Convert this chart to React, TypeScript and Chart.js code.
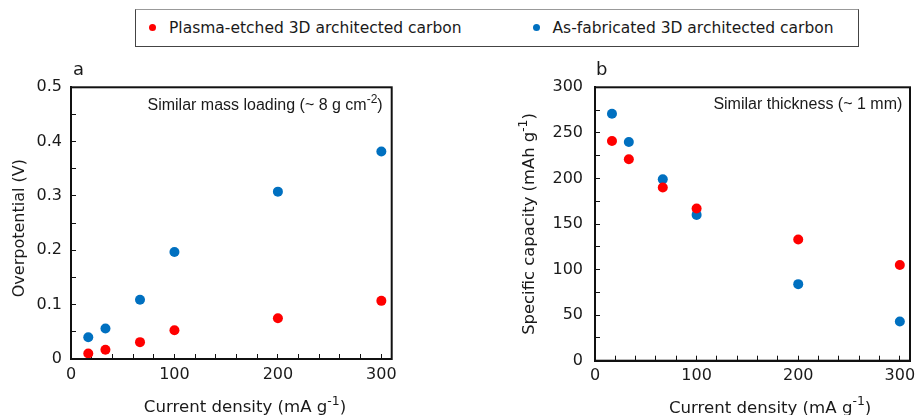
import React, { useEffect, useRef } from 'react';
import { Chart, registerables } from 'chart.js';

Chart.register(...registerables);

// ---------- data ----------
const currentDensity = [16.7, 33.3, 66.7, 100, 200, 300];
const overpotentialEtched = [0.01, 0.017, 0.031, 0.053, 0.075, 0.107];
const overpotentialFabricated = [0.04, 0.056, 0.109, 0.197, 0.308, 0.382];
const capacityEtched = [241, 221, 190, 167, 133, 105];
const capacityFabricated = [271, 240, 199, 160, 84, 43];

const seriesNames = ['Plasma-etched 3D architected carbon', 'As-fabricated 3D architected carbon'];
const seriesColors = ['#ff0000', '#0070c0'];

const xTickValues = [0, 100, 200, 300];
const xTickLabels = ['0', '100', '200', '300'];
const overpotentialTickValues = [0, 0.1, 0.2, 0.3, 0.4, 0.5];
const overpotentialTickLabels = ['0', '0.1', '0.2', '0.3', '0.4', '0.5'];
const capacityTickValues = [0, 50, 100, 150, 200, 250, 300];
const capacityTickLabels = ['0', '50', '100', '150', '200', '250', '300'];

const TEXT = '#1a1a1a';
const SANS = '"DejaVu Sans", Verdana, sans-serif';
const ARIAL = '"Liberation Sans", Arial, sans-serif';

type Seg = { t: string; sup?: boolean };

function drawRich(ctx: CanvasRenderingContext2D, segs: Seg[], x: number, y: number, size: number, family: string, align: string) {
  const supSize = size * 0.75;
  const widths = segs.map((s) => {
    ctx.font = `${s.sup ? supSize : size}px ${family}`;
    return ctx.measureText(s.t).width;
  });
  const total = widths.reduce((a, b) => a + b, 0);
  let cx = align === 'center' ? x - total / 2 : align === 'right' ? x - total : x;
  ctx.textAlign = 'left';
  ctx.textBaseline = 'alphabetic';
  segs.forEach((s, i) => {
    ctx.font = `${s.sup ? supSize : size}px ${family}`;
    ctx.fillText(s.t, cx, s.sup ? y - size * 0.45 : y);
    cx += widths[i];
  });
}

const panelPlugin = {
  id: 'panelText',
  afterDraw(chart: any, _args: any, o: any) {
    const { ctx, chartArea: ca } = chart;
    ctx.save();
    ctx.strokeStyle = '#111';
    ctx.lineWidth = 2;
    ctx.strokeRect(ca.left, ca.top, ca.right - ca.left, ca.bottom - ca.top);
    ctx.fillStyle = TEXT;
    // panel letter
    drawRich(ctx, [{ t: o.letter }], ca.left + o.letterDx, ca.top + o.letterDy, 18, SANS, 'left');
    // note
    drawRich(ctx, o.note, ca.right + o.noteDx, ca.top + o.noteDy, 16, ARIAL, 'right');
    // x title
    drawRich(ctx, o.xTitle, (ca.left + ca.right) / 2 + o.xTitleDx, ca.bottom + o.xTitleDy, 16.6, SANS, 'center');
    // y title
    ctx.translate(ca.left + o.yTitleDx, (ca.top + ca.bottom) / 2 + o.yTitleDy);
    ctx.rotate(-Math.PI / 2);
    drawRich(ctx, o.yTitle, 0, 0, o.yTitleSize, SANS, 'center');
    ctx.restore();
  },
};

function labelFor(values: number[], labels: string[]) {
  return (v: any) => {
    const idx = values.findIndex((m) => Math.abs(m - Number(v)) < 1e-9);
    return idx >= 0 ? labels[idx] : '';
  };
}

function makeConfig(p: any): any {
  const tickFont = { family: SANS, size: 16 };
  return {
    type: 'scatter',
    data: {
      datasets: [
        {
          label: seriesNames[0],
          data: currentDensity.map((x, i) => ({ x, y: p.etched[i] })),
          backgroundColor: seriesColors[0],
          borderColor: seriesColors[0],
          pointRadius: 5,
          pointHoverRadius: 5,
          pointBorderWidth: 0,
        },
        {
          label: seriesNames[1],
          data: currentDensity.map((x, i) => ({ x, y: p.fabricated[i] })),
          backgroundColor: seriesColors[1],
          borderColor: seriesColors[1],
          pointRadius: 5,
          pointHoverRadius: 5,
          pointBorderWidth: 0,
        },
      ],
    },
    options: {
      responsive: false,
      animation: false,
      events: [],
      layout: { padding: p.padding },
      scales: {
        x: {
          type: 'linear',
          min: 0,
          max: 310,
          afterFit(s: any) {
            s.height = p.xHeight;
            s.paddingLeft = 0;
            s.paddingRight = 0;
          },
          ticks: {
            stepSize: 20,
            autoSkip: false,
            maxRotation: 0,
            includeBounds: false,
            padding: 11,
            color: TEXT,
            font: tickFont,
            callback: labelFor(xTickValues, xTickLabels),
          },
          grid: { drawOnChartArea: false, tickLength: -5, color: '#111', lineWidth: 1 },
          border: { color: '#111', width: 2 },
        },
        y: {
          type: 'linear',
          min: p.yMin,
          max: p.yMax,
          afterFit(s: any) {
            s.width = p.yWidth;
            s.paddingTop = 0;
            s.paddingBottom = 0;
          },
          ticks: {
            stepSize: p.yStep,
            autoSkip: false,
            includeBounds: false,
            padding: p.yPad,
            color: TEXT,
            font: tickFont,
            callback: labelFor(p.yTickValues, p.yTickLabels),
          },
          grid: { drawOnChartArea: false, tickLength: -5, color: '#111', lineWidth: 1 },
          border: { color: '#111', width: 2 },
        },
      },
      plugins: {
        legend: { display: false },
        tooltip: { enabled: false },
        panelText: p.text,
      },
    },
    plugins: [panelPlugin],
  };
}

const xTitle: Seg[] = [{ t: 'Current density (mA g' }, { t: '-1', sup: true }, { t: ')' }];

export default function App() {
  const refA = useRef<HTMLCanvasElement>(null);
  const refB = useRef<HTMLCanvasElement>(null);

  useEffect(() => {
    const a = new Chart(
      refA.current as HTMLCanvasElement,
      makeConfig({
        etched: overpotentialEtched,
        fabricated: overpotentialFabricated,
        yMin: 0,
        yMax: 0.5,
        yStep: 0.05,
        yTickValues: overpotentialTickValues,
        yTickLabels: overpotentialTickLabels,
        yWidth: 71,
        yPad: 14,
        xHeight: 56,
        padding: { left: 0, top: 27.3, right: 48.3, bottom: 0 },
        text: {
          letter: 'a',
          letterDx: 2,
          letterDy: -12.3,
          note: [{ t: 'Similar mass loading (~ 8 g cm' }, { t: '-2', sup: true }, { t: ')' }],
          noteDx: -9,
          noteDy: 22.7,
          xTitle,
          xTitleDx: 13.7,
          xTitleDy: 53.4,
          yTitle: [{ t: 'Overpotential (V)' }],
          yTitleSize: 16,
          yTitleDx: -47,
          yTitleDy: 5,
        },
      })
    );
    const b = new Chart(
      refB.current as HTMLCanvasElement,
      makeConfig({
        etched: capacityEtched,
        fabricated: capacityFabricated,
        yMin: 0,
        yMax: 300,
        yStep: 25,
        yTickValues: capacityTickValues,
        yTickLabels: capacityTickLabels,
        yWidth: 155,
        yPad: 17,
        xHeight: 54.3,
        padding: { left: 0, top: 27.3, right: 2.3, bottom: 0 },
        text: {
          letter: 'b',
          letterDx: 1,
          letterDy: -12.3,
          note: [{ t: 'Similar thickness (~ 1 mm)' }],
          noteDx: -7.7,
          noteDy: 22,
          xTitle,
          xTitleDx: 17.6,
          xTitleDy: 52,
          yTitle: [{ t: 'Specific capacity (mAh g' }, { t: '-1', sup: true }, { t: ')' }],
          yTitleSize: 16.4,
          yTitleDx: -60.7,
          yTitleDy: 0,
        },
      })
    );
    return () => {
      a.destroy();
      b.destroy();
    };
  }, []);

  const legendItem = (i: number, left: number) => (
    <div
      style={{
        position: 'absolute',
        left,
        top: 9,
        height: 37,
        display: 'flex',
        alignItems: 'center',
        whiteSpace: 'nowrap',
      }}
    >
      <span
        style={{
          display: 'inline-block',
          width: 7,
          height: 7,
          borderRadius: '50%',
          background: seriesColors[i],
          marginRight: 13,
        }}
      />
      <span style={{ fontFamily: SANS, fontSize: 15.5, color: TEXT }}>{seriesNames[i]}</span>
    </div>
  );

  return (
    <div
      style={{
        position: 'absolute',
        left: 0,
        top: 0,
        width: 915,
        height: 415,
        background: '#fff',
        overflow: 'hidden',
      }}
    >
      <div
        style={{
          position: 'absolute',
          left: 135,
          top: 9,
          width: 722,
          height: 36,
          border: '1px solid #444',
          borderTopColor: '#999',
        }}
      />
      {legendItem(0, 149)}
      {legendItem(1, 532.5)}
      <canvas
        ref={refA}
        width={440}
        height={355}
        style={{ position: 'absolute', left: 0, top: 60, width: 440, height: 355 }}
      />
      <canvas
        ref={refB}
        width={475}
        height={355}
        style={{ position: 'absolute', left: 440, top: 60, width: 475, height: 355 }}
      />
    </div>
  );
}
